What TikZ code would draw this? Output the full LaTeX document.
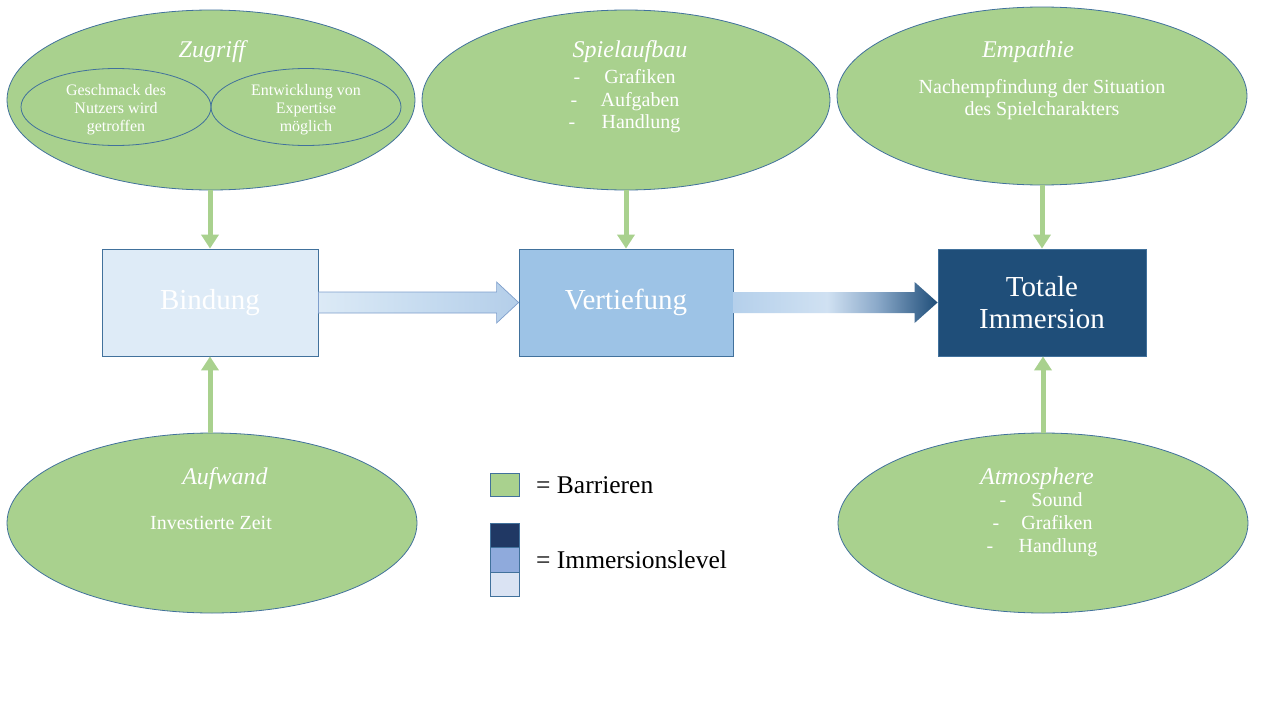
\documentclass[tikz,border=0pt]{standalone}
\usepackage{fontspec}
\setmainfont{Liberation Serif}
\usetikzlibrary{calc,arrows.meta,shapes.geometric}
\definecolor{barr}{HTML}{A9D18E}
\definecolor{edgec}{HTML}{41719C}
\definecolor{lvlA}{HTML}{DEEBF7}
\definecolor{lvlB}{HTML}{9DC3E6}
\definecolor{lvlC}{HTML}{1F4E79}
\definecolor{legD}{HTML}{203864}
\definecolor{legM}{HTML}{8FAADC}
\definecolor{legL}{HTML}{DAE3F3}
\definecolor{aoneA}{HTML}{DCEAF6}
\definecolor{aoneB}{HTML}{C7DCF0}
\definecolor{aoneC}{HTML}{B4CEE9}
\definecolor{aoneE}{HTML}{7F9FCC}
\definecolor{atwoA}{HTML}{B5D0EB}
\definecolor{atwoB}{HTML}{D0E1F2}
\definecolor{atwoC}{HTML}{8CAACA}
\pgfdeclarehorizontalshading{arrowone}{100bp}{color(0bp)=(aoneA); color(25bp)=(aoneA); color(50bp)=(aoneB); color(75bp)=(aoneC); color(100bp)=(aoneC)}
\pgfdeclarehorizontalshading{arrowtwo}{100bp}{color(0bp)=(atwoA); color(25bp)=(atwoA); color(48bp)=(atwoB); color(60bp)=(atwoC); color(75bp)=(lvlC); color(100bp)=(lvlC)}
\tikzset{
  barrier/.style={ellipse, draw=edgec, line width=0.8pt, fill=barr, inner sep=0pt, minimum width=408, minimum height=180},
  subell/.style={ellipse, draw=edgec, line width=0.8pt, inner sep=0pt, minimum width=190, minimum height=77},
  lvlbox/.style={rectangle, draw=edgec, line width=0.8pt, inner sep=0pt, text=white, font=\fontsize{29}{32}\selectfont, align=center},
  ttl/.style={text=white, inner sep=0pt, font=\fontsize{24}{28}\selectfont\itshape},
  body/.style={text=white, inner sep=0pt, font=\fontsize{20}{22}\selectfont, align=center},
  item/.style={text=white, inner sep=0pt, font=\fontsize{20}{22}\selectfont, text height=13pt, text depth=4pt},
  small/.style={text=white, inner sep=0pt, font=\fontsize{16}{18}\selectfont, align=center},
  barrow/.style={draw=barr, line width=5pt, -{Triangle[width=17pt,length=14pt]}},
  legsq/.style={rectangle, draw=edgec, line width=0.8pt, inner sep=0pt, minimum width=29, minimum height=24.5},
  legtxt/.style={anchor=west, inner sep=0pt, font=\fontsize{25.5}{28}\selectfont}
}
\begin{document}
\begin{tikzpicture}[x=1pt,y=-1pt]
\useasboundingbox[fill=white] (0,0) rectangle (1280,720);

% barrier ellipses
\node[barrier] (zug) at (211,100) {};
\node[barrier] (spiel) at (626,100) {};
\node[barrier, minimum width=410, minimum height=178] (emp) at (1042,96) {};
\node[barrier, minimum width=410] (aufw) at (212,523) {};
\node[barrier, minimum width=410] (atmo) at (1043,523) {};

% Zugriff
\node[ttl] (zugT) at (212,52) {Zugriff};
\node[subell] (gesch) at (116,107) {};
\node[subell] (entw) at (306,107) {};
\node[small] (geschT) at (116,110) {Geschmack des\\Nutzers wird\\getroffen};
\node[small] (entwT) at (306,110) {Entwicklung von\\Expertise\\möglich};

% Spielaufbau
\node[ttl] (spielT) at (630,52) {Spielaufbau};
\node[item] (sd1) at (577,78.5) {-};
\node[item] (sd2) at (574,101.5) {-};
\node[item] (sd3) at (572,123.5) {-};
\node[item] (s1) at (640,78.5) {Grafiken};
\node[item] (s2) at (640,101.5) {Aufgaben};
\node[item] (s3) at (641,123.5) {Handlung};

% Empathie
\node[ttl] (empT) at (1028,52) {Empathie};
\node[body] (empB) at (1042,100) {Nachempfindung der Situation\\des Spielcharakters};

% Aufwand
\node[ttl] (aufwT) at (225,479) {Aufwand};
\node[item] (aufwB) at (211,525) {Investierte Zeit};

% Atmosphere
\node[ttl] (atmoT) at (1037,479) {Atmosphere};
\node[item] (ad1) at (1003,501.5) {-};
\node[item] (ad2) at (996,524.5) {-};
\node[item] (ad3) at (990,547.5) {-};
\node[item] (a1) at (1057,501.5) {Sound};
\node[item] (a2) at (1057,524.5) {Grafiken};
\node[item] (a3) at (1058,547.5) {Handlung};

% immersion level boxes
\node[lvlbox, fill=lvlA, minimum width=216, minimum height=107] (bind) at (210,302.5) {Bindung};
\node[lvlbox, fill=lvlB, minimum width=214, minimum height=107] (vert) at (626,302.5) {Vertiefung};
\node[lvlbox, fill=lvlC, minimum width=208, minimum height=107] (total) at (1042,302.5) {Totale\\Immersion};

% block arrows
\shade[shading=arrowone, draw=aoneE, line width=0.7pt]
  ($(bind.east)+(0,-10.5)$) -- ($(vert.west)+(-22,-10.5)$) -- ($(vert.west)+(-22,-20.5)$) -- (vert.west)
  -- ($(vert.west)+(-22,20.5)$) -- ($(vert.west)+(-22,10.5)$) -- ($(bind.east)+(0,10.5)$) -- cycle;
\shade[shading=arrowtwo]
  ($(vert.east)+(0,-10.5)$) -- ($(total.west)+(-23,-10.5)$) -- ($(total.west)+(-23,-20.5)$) -- (total.west)
  -- ($(total.west)+(-23,20.5)$) -- ($(total.west)+(-23,10.5)$) -- ($(vert.east)+(0,10.5)$) -- cycle;

% barrier arrows
\draw[barrow] (zug.south -| bind.north) -- (bind.north);
\draw[barrow] (spiel.south) -- (vert.north);
\draw[barrow] (emp.south -| total.north) -- (total.north);
\draw[barrow] (aufw.north -| bind.south) -- (bind.south);
\draw[barrow] (atmo.north) -- (atmo.north |- total.south);

% legend
\node[legsq, fill=barr, minimum height=23] (lgG) at (505,484.5) {};
\node[legtxt] (lgGT) at (536,485) {= Barrieren};
\node[legsq, fill=legD] (lgD) at (505,535.25) {};
\node[legsq, fill=legM] (lgM) at (505,559.75) {};
\node[legsq, fill=legL] (lgL) at (505,584.25) {};
\node[legtxt] (lgLT) at (536,560) {= Immersionslevel};
\end{tikzpicture}
\end{document}
